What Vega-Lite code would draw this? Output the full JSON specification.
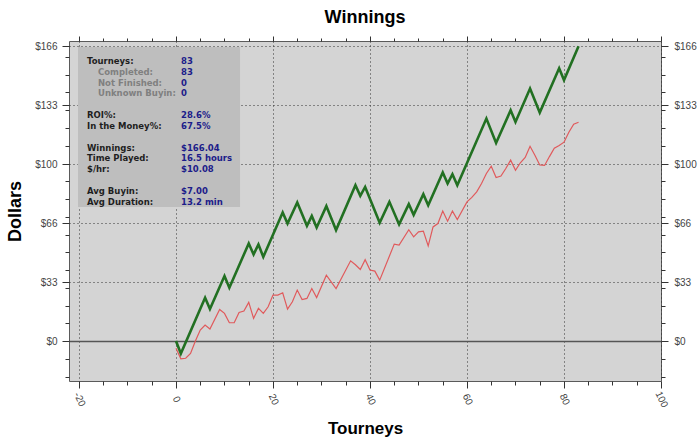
{
  "$schema": "https://vega.github.io/schema/vega-lite/v6.json",
  "width": 592,
  "height": 340,
  "autosize": {"type": "none"},
  "padding": {"left": 69, "top": 41, "right": 39, "bottom": 66},
  "background": "white",
  "title": {"text": "Winnings", "font": "Liberation Sans", "fontSize": 18, "fontWeight": "bold", "color": "#000000", "anchor": "middle", "offset": 9},
  "config": {
    "view": {"fill": "#d4d4d4", "stroke": "#5a5a5a", "strokeWidth": 1},
    "axis": {
      "domain": false,
      "tickColor": "#333333",
      "labelFont": "Liberation Sans",
      "labelFontSize": 10,
      "labelColor": "#444444",
      "titleFont": "Liberation Sans",
      "titleFontWeight": "bold",
      "titleColor": "#000000",
      "labelOverlap": false,
      "labelFlush": false,
      "labelBound": false
    }
  },
  "datasets": {
    "winnings": [
      {"tourney": 0, "dollars": 0}, {"tourney": 1, "dollars": -7}, {"tourney": 6, "dollars": 24.4}, {"tourney": 7, "dollars": 18},
      {"tourney": 10, "dollars": 36.6}, {"tourney": 11, "dollars": 30}, {"tourney": 15, "dollars": 55}, {"tourney": 16, "dollars": 48.8},
      {"tourney": 17, "dollars": 54.4}, {"tourney": 18, "dollars": 47.4}, {"tourney": 22, "dollars": 72.4}, {"tourney": 23, "dollars": 66.2},
      {"tourney": 25, "dollars": 78}, {"tourney": 27, "dollars": 64.9}, {"tourney": 28, "dollars": 70.5}, {"tourney": 29, "dollars": 64},
      {"tourney": 31, "dollars": 76}, {"tourney": 33, "dollars": 62.5}, {"tourney": 37, "dollars": 87.8}, {"tourney": 38, "dollars": 81.8},
      {"tourney": 39, "dollars": 86.8}, {"tourney": 42, "dollars": 66.6}, {"tourney": 44, "dollars": 78.4}, {"tourney": 46, "dollars": 65.7},
      {"tourney": 48, "dollars": 77.1}, {"tourney": 49, "dollars": 71.1}, {"tourney": 51, "dollars": 82.7}, {"tourney": 52, "dollars": 76.5},
      {"tourney": 55, "dollars": 94.9}, {"tourney": 56, "dollars": 88.7}, {"tourney": 57, "dollars": 94}, {"tourney": 58, "dollars": 87.8},
      {"tourney": 64, "dollars": 125.3}, {"tourney": 66, "dollars": 111.6}, {"tourney": 69, "dollars": 130}, {"tourney": 70, "dollars": 123.4},
      {"tourney": 73, "dollars": 142.2}, {"tourney": 75, "dollars": 128.7}, {"tourney": 79, "dollars": 153.6}, {"tourney": 80, "dollars": 147},
      {"tourney": 83, "dollars": 166.04}
    ],
    "expected": [
      {"tourney": 0, "dollars": -4}, {"tourney": 1, "dollars": -10}, {"tourney": 2, "dollars": -9.7}, {"tourney": 3, "dollars": -7},
      {"tourney": 4, "dollars": 0}, {"tourney": 5, "dollars": 6.2}, {"tourney": 6, "dollars": 9}, {"tourney": 7, "dollars": 6.8},
      {"tourney": 9, "dollars": 17.8}, {"tourney": 10, "dollars": 15.6}, {"tourney": 11, "dollars": 10.3}, {"tourney": 12, "dollars": 10.3},
      {"tourney": 13, "dollars": 16.1}, {"tourney": 14, "dollars": 16.9}, {"tourney": 15, "dollars": 21.8}, {"tourney": 16, "dollars": 12.8},
      {"tourney": 17, "dollars": 18.4}, {"tourney": 18, "dollars": 15.6}, {"tourney": 19, "dollars": 19.3}, {"tourney": 20, "dollars": 25.9},
      {"tourney": 21, "dollars": 25.9}, {"tourney": 22, "dollars": 27.2}, {"tourney": 23, "dollars": 18}, {"tourney": 24, "dollars": 22.1},
      {"tourney": 25, "dollars": 28.7}, {"tourney": 26, "dollars": 23.4}, {"tourney": 27, "dollars": 24}, {"tourney": 28, "dollars": 29.6},
      {"tourney": 29, "dollars": 24.5}, {"tourney": 31, "dollars": 37.1}, {"tourney": 33, "dollars": 29.6}, {"tourney": 36, "dollars": 45.2},
      {"tourney": 37, "dollars": 43}, {"tourney": 38, "dollars": 40.3}, {"tourney": 39, "dollars": 45.8}, {"tourney": 40, "dollars": 40},
      {"tourney": 41, "dollars": 39.4}, {"tourney": 42, "dollars": 34.3}, {"tourney": 45, "dollars": 54.6}, {"tourney": 46, "dollars": 54},
      {"tourney": 48, "dollars": 62.7}, {"tourney": 49, "dollars": 58.7}, {"tourney": 50, "dollars": 61.5}, {"tourney": 51, "dollars": 61.9},
      {"tourney": 52, "dollars": 53.6}, {"tourney": 53, "dollars": 64.3}, {"tourney": 54, "dollars": 66.2}, {"tourney": 55, "dollars": 73.2},
      {"tourney": 56, "dollars": 67.5}, {"tourney": 57, "dollars": 73.2}, {"tourney": 58, "dollars": 68.5}, {"tourney": 60, "dollars": 78.4},
      {"tourney": 61, "dollars": 80.9}, {"tourney": 62, "dollars": 84}, {"tourney": 63, "dollars": 88.7}, {"tourney": 64, "dollars": 94.4},
      {"tourney": 65, "dollars": 98.5}, {"tourney": 66, "dollars": 92.1}, {"tourney": 67, "dollars": 92.9}, {"tourney": 68, "dollars": 97.2},
      {"tourney": 69, "dollars": 101.9}, {"tourney": 70, "dollars": 96.2}, {"tourney": 71, "dollars": 100.4}, {"tourney": 72, "dollars": 103.4},
      {"tourney": 73, "dollars": 109.7}, {"tourney": 74, "dollars": 104.7}, {"tourney": 75, "dollars": 99.2}, {"tourney": 76, "dollars": 98.9},
      {"tourney": 77, "dollars": 103.9}, {"tourney": 78, "dollars": 108.6}, {"tourney": 79, "dollars": 110.1}, {"tourney": 80, "dollars": 112},
      {"tourney": 81, "dollars": 117.6}, {"tourney": 82, "dollars": 122.1}, {"tourney": 83, "dollars": 123.2}
    ],
    "stats": [
      {"row": 1, "label": "Tourneys:", "value": "83", "kind": "main"},
      {"row": 2, "label": "Completed:", "value": "83", "kind": "sub"},
      {"row": 3, "label": "Not Finished:", "value": "0", "kind": "sub"},
      {"row": 4, "label": "Unknown Buyin:", "value": "0", "kind": "sub"},
      {"row": 6, "label": "ROI%:", "value": "28.6%", "kind": "main"},
      {"row": 7, "label": "In the Money%:", "value": "67.5%", "kind": "main"},
      {"row": 9, "label": "Winnings:", "value": "$166.04", "kind": "main"},
      {"row": 10, "label": "Time Played:", "value": "16.5 hours", "kind": "main"},
      {"row": 11, "label": "$/hr:", "value": "$10.08", "kind": "main"},
      {"row": 13, "label": "Avg Buyin:", "value": "$7.00", "kind": "main"},
      {"row": 14, "label": "Avg Duration:", "value": "13.2 min", "kind": "main"}
    ]
  },
  "layer": [
    {
      "data": {"name": "stats"},
      "transform": [{"filter": "datum.row == 1"}],
      "mark": {"type": "rect", "color": "#bebebe"},
      "encoding": {
        "x": {"datum": -20.2, "type": "quantitative", "scale": {"domain": [-22.06, 100], "nice": false, "zero": false}, "axis": null},
        "x2": {"datum": 13.2},
        "y": {"datum": 165.6, "type": "quantitative", "scale": {"domain": [-22.5, 169], "nice": false, "zero": false}, "axis": null},
        "y2": {"datum": 75.5}
      }
    },
    {
      "data": {"name": "stats"},
      "transform": [{"filter": "datum.kind == 'main'"}],
      "mark": {"type": "text", "align": "left", "baseline": "middle", "font": "DejaVu Sans", "fontSize": 8.5, "fontWeight": "bold", "color": "#1e1e1e"},
      "encoding": {
        "x": {"datum": -18.35, "type": "quantitative", "axis": null},
        "y": {"field": "row", "type": "quantitative", "scale": {"domain": [-0.848, 30.57], "reverse": true, "nice": false, "zero": false}, "axis": null},
        "text": {"field": "label"}
      }
    },
    {
      "data": {"name": "stats"},
      "transform": [{"filter": "datum.kind == 'sub'"}],
      "mark": {"type": "text", "align": "left", "baseline": "middle", "font": "DejaVu Sans", "fontSize": 8.5, "fontWeight": "bold", "color": "#808080"},
      "encoding": {
        "x": {"datum": -16.08, "type": "quantitative", "axis": null},
        "y": {"field": "row", "type": "quantitative", "scale": {"domain": [-0.848, 30.57], "reverse": true, "nice": false, "zero": false}, "axis": null},
        "text": {"field": "label"}
      }
    },
    {
      "data": {"name": "stats"},
      "mark": {"type": "text", "align": "left", "baseline": "middle", "font": "DejaVu Sans", "fontSize": 8.5, "fontWeight": "bold", "color": "#1c1c8a"},
      "encoding": {
        "x": {"datum": 1.03, "type": "quantitative", "axis": null},
        "y": {"field": "row", "type": "quantitative", "scale": {"domain": [-0.848, 30.57], "reverse": true, "nice": false, "zero": false}, "axis": null},
        "text": {"field": "value"}
      }
    },
    {
      "data": {"name": "expected"},
      "mark": {"type": "line", "color": "#e05a5c", "strokeWidth": 1.2},
      "encoding": {
        "x": {
          "field": "tourney", "type": "quantitative",
          "scale": {"domain": [-22.06, 100], "nice": false, "zero": false},
          "axis": {
            "orient": "top", "title": null, "labels": false, "grid": false,
            "values": [-20, -15, -10, -5, 0, 5, 10, 15, 20, 25, 30, 35, 40, 45, 50, 55, 60, 65, 70, 75, 80, 85, 90, 95, 100],
            "tickSize": {"condition": {"test": "datum.value % 20 == 0", "value": 5}, "value": 3}
          }
        },
        "y": {
          "field": "dollars", "type": "quantitative",
          "scale": {"domain": [-22.5, 169], "nice": false, "zero": false},
          "axis": {
            "orient": "right", "title": null, "grid": false,
            "values": [-20, -10, 0, 10, 20, 30, 33.208, 40, 50, 60, 66.416, 70, 80, 90, 99.624, 100, 110, 120, 130, 132.832, 140, 150, 160, 166.04],
            "labelExpr": "abs(datum.value/33.208 - round(datum.value/33.208)) < 0.001 ? '$' + round(datum.value) : ''",
            "tickSize": {"condition": {"test": "abs(datum.value/33.208 - round(datum.value/33.208)) < 0.001", "value": 7}, "value": 4},
            "labelPadding": 6
          }
        }
      }
    },
    {
      "data": {"name": "winnings"},
      "mark": {"type": "line", "color": "#227022", "strokeWidth": 2.6},
      "encoding": {
        "x": {
          "field": "tourney", "type": "quantitative",
          "scale": {"domain": [-22.06, 100], "nice": false, "zero": false},
          "axis": {
            "orient": "bottom", "title": "Tourneys", "titleFontSize": 17, "titlePadding": 12,
            "values": [-20, -15, -10, -5, 0, 5, 10, 15, 20, 25, 30, 35, 40, 45, 50, 55, 60, 65, 70, 75, 80, 85, 90, 95, 100],
            "labelExpr": "datum.value % 20 == 0 ? '' + datum.value : ''",
            "labelAngle": 65, "labelAlign": "center", "labelBaseline": "middle", "labelPadding": 11,
            "tickSize": {"condition": {"test": "datum.value % 20 == 0", "value": 7}, "value": 4},
            "grid": true,
            "gridOpacity": {"condition": {"test": "datum.value % 20 == 0", "value": 1}, "value": 0},
            "gridDash": [1, 3], "gridColor": "#333333"
          }
        },
        "y": {
          "field": "dollars", "type": "quantitative",
          "scale": {"domain": [-22.5, 169], "nice": false, "zero": false},
          "axis": {
            "orient": "left", "title": "Dollars", "titleFontSize": 18, "titlePadding": 10,
            "values": [-20, -10, 0, 10, 20, 30, 33.208, 40, 50, 60, 66.416, 70, 80, 90, 99.624, 100, 110, 120, 130, 132.832, 140, 150, 160, 166.04],
            "labelExpr": "abs(datum.value/33.208 - round(datum.value/33.208)) < 0.001 ? '$' + round(datum.value) : ''",
            "tickSize": {"condition": {"test": "abs(datum.value/33.208 - round(datum.value/33.208)) < 0.001", "value": 7}, "value": 4},
            "labelPadding": 5,
            "grid": true,
            "gridOpacity": {"condition": {"test": "abs(datum.value/33.208 - round(datum.value/33.208)) < 0.001", "value": 1}, "value": 0},
            "gridDash": {"condition": {"test": "datum.value == 0", "value": [1, 0]}, "value": [1, 3]},
            "gridColor": {"condition": {"test": "datum.value == 0", "value": "#555555"}, "value": "#333333"},
            "gridWidth": {"condition": {"test": "datum.value == 0", "value": 1.5}, "value": 1}
          }
        }
      }
    }
  ],
  "resolve": {"scale": {"y": "independent"}, "axis": {"x": "independent", "y": "independent"}}
}
